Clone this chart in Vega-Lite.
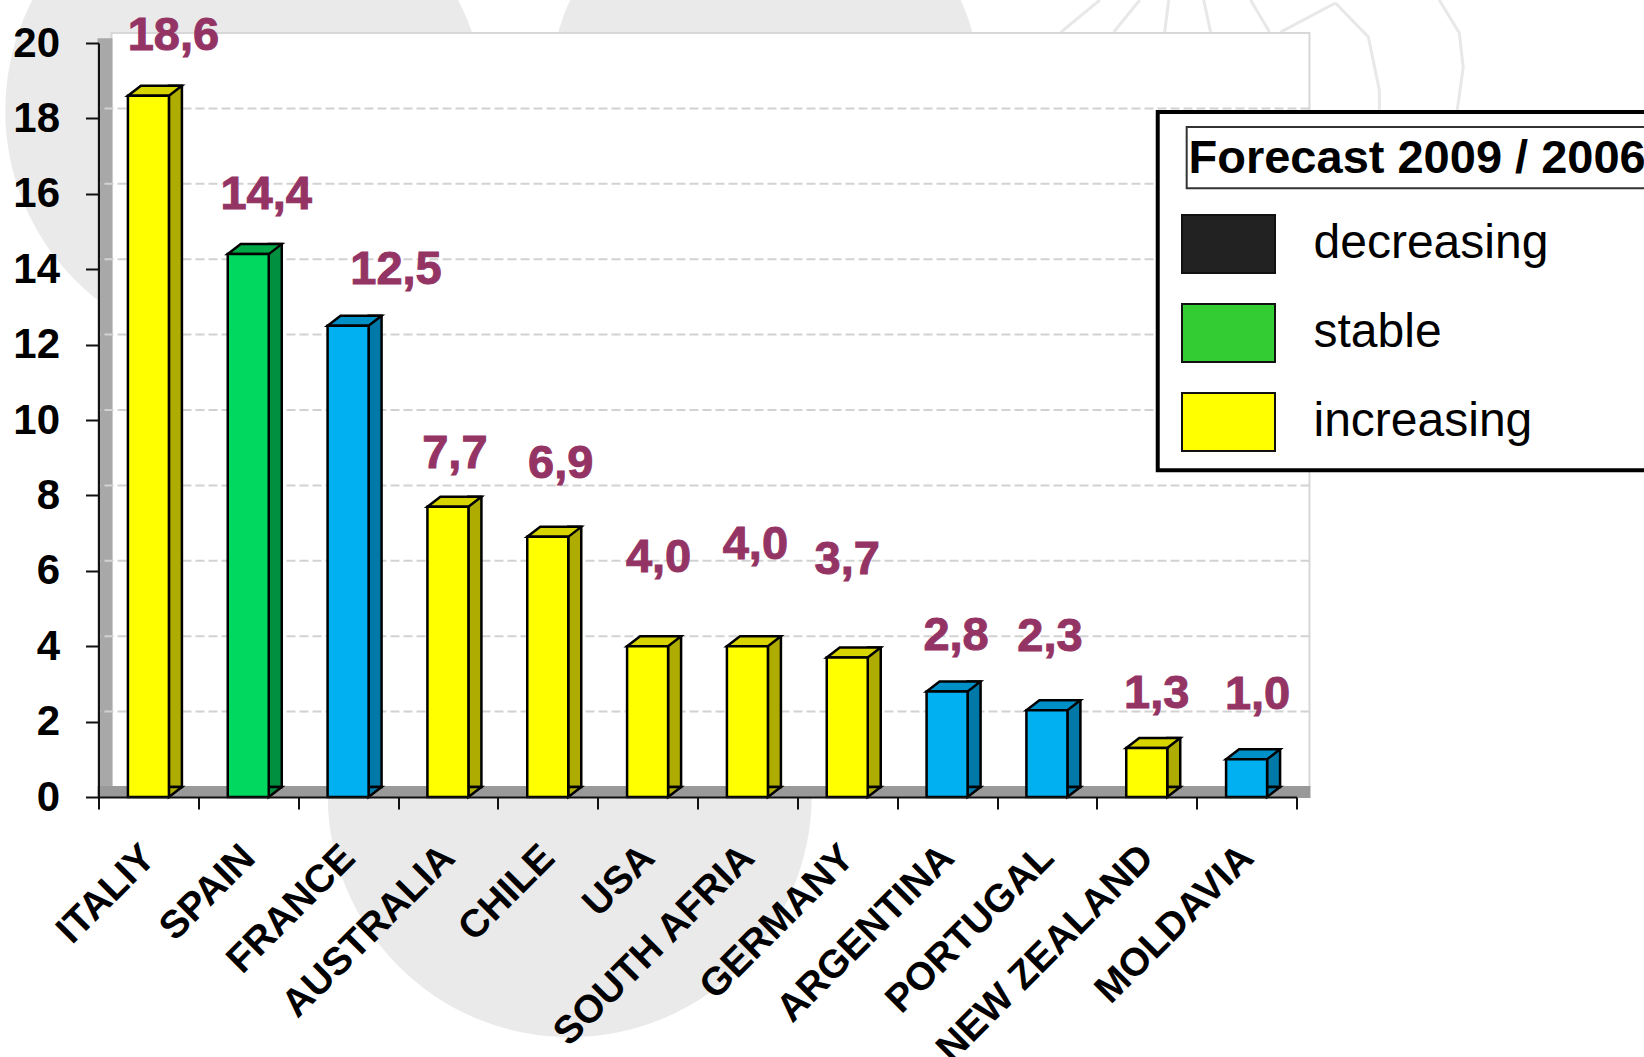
{
"$schema":"https://vega.github.io/schema/vega-lite/v6.json",
"width":1198,"height":754,"autosize":"none",
"padding":{"left":98.5,"top":43,"right":347.5,"bottom":260},
"background":"white",
"config":{"view":{"stroke":null},"font":"Liberation Sans",
 "axisY":{"title":null,"grid":false,"tickCount":10,"labelFont":"Liberation Sans","labelFontWeight":"bold","labelFontSize":42,"labelColor":"#000","labelPadding":26,"tickSize":13,"tickWidth":2,"tickColor":"#111","domainColor":"#111","domainWidth":2}},
"datasets":{
"rows":[
{"country":"ITALIY","value":18.6,"label":"18,6","trend":"increasing","lx":0.75,"ly":19.81},
{"country":"SPAIN","value":14.4,"label":"14,4","trend":"stable","lx":1.68,"ly":15.61},
{"country":"FRANCE","value":12.5,"label":"12,5","trend":"decreasing","lx":2.98,"ly":13.62},
{"country":"AUSTRALIA","value":7.7,"label":"7,7","trend":"increasing","lx":3.57,"ly":8.72},
{"country":"CHILE","value":6.9,"label":"6,9","trend":"increasing","lx":4.63,"ly":8.47},
{"country":"USA","value":4.0,"label":"4,0","trend":"increasing","lx":5.61,"ly":5.97},
{"country":"SOUTH AFRIA","value":4.0,"label":"4,0","trend":"increasing","lx":6.58,"ly":6.31},
{"country":"GERMANY","value":3.7,"label":"3,7","trend":"increasing","lx":7.5,"ly":5.92},
{"country":"ARGENTINA","value":2.8,"label":"2,8","trend":"decreasing","lx":8.59,"ly":3.89},
{"country":"PORTUGAL","value":2.3,"label":"2,3","trend":"decreasing","lx":9.53,"ly":3.87},
{"country":"NEW ZEALAND","value":1.3,"label":"1,3","trend":"increasing","lx":10.6,"ly":2.35},
{"country":"MOLDAVIA","value":1.0,"label":"1,0","trend":"decreasing","lx":11.61,"ly":2.33}
],
"blobs":[{"bx":1.47,"by":18.2,"area":230400},{"bx":6.68,"by":18.75,"area":184900},{"bx":4.72,"by":0.05,"area":234256}],
"sketch":[
{"s":"a","bx":9.64,"by":20.29},{"s":"a","bx":10.03,"by":21.14},
{"s":"b","bx":10.17,"by":20.29},{"s":"b","bx":10.43,"by":21.14},
{"s":"c","bx":10.68,"by":20.29},{"s":"c","bx":10.72,"by":21.14},
{"s":"d","bx":11.14,"by":20.29},{"s":"d","bx":11.07,"by":21.14},
{"s":"e","bx":11.73,"by":20.29},{"s":"e","bx":11.54,"by":21.14},
{"s":"f","bx":11.84,"by":20.29},{"s":"f","bx":12.39,"by":21.06},
{"s":"g","bx":12.39,"by":21.06},{"s":"g","bx":12.72,"by":20.16},{"s":"g","bx":12.83,"by":18.75},{"s":"g","bx":12.83,"by":18.22},
{"s":"h","bx":13.43,"by":21.14},{"s":"h","bx":13.63,"by":20.27},{"s":"h","bx":13.67,"by":19.36},{"s":"h","bx":13.61,"by":18.22}
],
"frame":[
{"part":"back","x0":0.13,"x1":12.13,"y0":0.265,"y1":20.265},
{"part":"left","x0":0,"x1":0.13,"y0":0,"y1":20.1},
{"part":"floor","x0":0,"x1":12.13,"y0":0,"y1":0.265}
],
"grid":[{"g":2},{"g":4},{"g":6},{"g":8},{"g":10},{"g":12},{"g":14},{"g":16},{"g":18}],
"box":[{"x0":10.61,"x1":16,"y0":8.67,"y1":18.17}],
"titlebox":[{"x0":10.9,"x1":16,"y0":16.15,"y1":17.77}]
},
"layer":[
{"data":{"name":"blobs"},"mark":{"type":"point","filled":true,"shape":"circle","fill":"#eaeaea","opacity":1,"stroke":null,"clip":false},
 "encoding":{"x":{"field":"bx","type":"quantitative","scale":{"domain":[0,12],"nice":false,"zero":false},"axis":null},
 "y":{"field":"by","type":"quantitative","scale":{"domain":[0,20],"nice":false}},
 "size":{"field":"area","type":"quantitative","scale":null}}},
{"data":{"name":"sketch"},"mark":{"type":"line","stroke":"#e8e8e8","strokeWidth":3},
 "encoding":{"x":{"field":"bx","type":"quantitative","scale":{"domain":[0,12],"nice":false,"zero":false},"axis":null},
 "y":{"field":"by","type":"quantitative","scale":{"domain":[0,20],"nice":false}},
 "detail":{"field":"s"},"order":{"field":"by","sort":"descending"}}},
{"data":{"name":"frame"},"mark":{"type":"rect","strokeWidth":2},
 "encoding":{"x":{"field":"x0","type":"quantitative","scale":{"domain":[0,12],"nice":false,"zero":false},"axis":null},"x2":{"field":"x1"},
 "y":{"field":"y0","type":"quantitative","scale":{"domain":[0,20],"nice":false}},"y2":{"field":"y1"},
 "fill":{"field":"part","type":"nominal","legend":null,"scale":{"domain":["back","left","floor"],"range":["#ffffff","#a8a8a8","#999999"]}},
 "stroke":{"field":"part","type":"nominal","legend":null,"scale":{"domain":["back","left","floor"],"range":["#d8d8d8","#a8a8a8","#999999"]}}}},
{"data":{"name":"grid"},"mark":{"type":"rule","stroke":"#d2d2d2","strokeWidth":2,"strokeDash":[9,4],"yOffset":-10,"xOffset":13},
 "encoding":{"y":{"field":"g","type":"quantitative","scale":{"domain":[0,20],"nice":false}}}},
{"data":{"name":"rows"},"mark":{"type":"bar","width":13,"xOffset":27,"yOffset":-10,"y2Offset":-10,"stroke":"#000","strokeWidth":2.5},
 "encoding":{"x":{"field":"country","type":"nominal","sort":null,"scale":{"paddingInner":0,"paddingOuter":0},"axis":null},
 "y":{"field":"value","type":"quantitative","scale":{"domain":[0,20],"nice":false}},
 "fill":{"field":"trend","type":"nominal","legend":null,"scale":{"domain":["decreasing","stable","increasing"],"range":["#0078a8","#009040","#aeac00"]}}}},
{"data":{"name":"rows"},"mark":{"type":"point","filled":true,"opacity":1,"size":4,"shape":"M20.5,0L33.5,-10H20.5Z","stroke":"#000","strokeWidth":2.5},
 "encoding":{"x":{"field":"country","type":"nominal","sort":null,"scale":{"paddingInner":0,"paddingOuter":0},"axis":null},
 "y":{"datum":0,"type":"quantitative","scale":{"domain":[0,20],"nice":false}},
 "fill":{"field":"trend","type":"nominal","legend":null,"scale":{"domain":["decreasing","stable","increasing"],"range":["#0078a8","#009040","#aeac00"]}}}},
{"data":{"name":"rows"},"mark":{"type":"point","filled":true,"opacity":1,"size":4,"shape":"M-20.5,0H20.5L33.5,-10H-7.5Z","stroke":"#000","strokeWidth":2.5},
 "encoding":{"x":{"field":"country","type":"nominal","sort":null,"scale":{"paddingInner":0,"paddingOuter":0},"axis":null},
 "y":{"field":"value","type":"quantitative","scale":{"domain":[0,20],"nice":false}},
 "fill":{"field":"trend","type":"nominal","legend":null,"scale":{"domain":["decreasing","stable","increasing"],"range":["#0090c8","#00a848","#d8d400"]}}}},
{"data":{"name":"rows"},"mark":{"type":"bar","width":41,"stroke":"#000","strokeWidth":2.5},
 "encoding":{"x":{"field":"country","type":"nominal","sort":null,"scale":{"paddingInner":0,"paddingOuter":0},
   "axis":{"title":null,"labelAngle":-45,"labelAlign":"right","labelBaseline":"middle","labelFont":"Liberation Sans","labelFontWeight":"bold","labelFontSize":39,"labelColor":"#000","labelPadding":42,"labelLimit":400,"labelOverlap":false,"tickBand":"extent","tickSize":12,"tickWidth":2,"tickColor":"#111","domainColor":"#111","domainWidth":2,"grid":false,"zindex":1}},
 "y":{"field":"value","type":"quantitative","scale":{"domain":[0,20],"nice":false},"axis":{"zindex":1}},
 "fill":{"field":"trend","type":"nominal","legend":null,"scale":{"domain":["decreasing","stable","increasing"],"range":["#00b0f0","#00d85f","#ffff00"]}}}},
{"data":{"name":"rows"},"mark":{"type":"text","font":"Liberation Sans","fontWeight":"bold","fontSize":47,"fill":"#943464","stroke":"#943464","strokeWidth":1,"baseline":"alphabetic","align":"center"},
 "encoding":{"x":{"field":"lx","type":"quantitative","scale":{"domain":[0,12],"nice":false,"zero":false},"axis":null},
 "y":{"field":"ly","type":"quantitative","scale":{"domain":[0,20],"nice":false}},
 "text":{"field":"label"}}},
{"data":{"name":"box"},"mark":{"type":"rect","fill":"#fff","stroke":"#000","strokeWidth":4},
 "encoding":{"x":{"field":"x0","type":"quantitative","scale":{"domain":[0,12],"nice":false,"zero":false},"axis":null},"x2":{"field":"x1"},
 "y":{"field":"y0","type":"quantitative","scale":{"domain":[0,20],"nice":false}},"y2":{"field":"y1"}}},
{"data":{"name":"titlebox"},"mark":{"type":"rect","fill":"#fff","stroke":"#333","strokeWidth":2},
 "encoding":{"x":{"field":"x0","type":"quantitative","scale":{"domain":[0,12],"nice":false,"zero":false},"axis":null},"x2":{"field":"x1"},
 "y":{"field":"y0","type":"quantitative","scale":{"domain":[0,20],"nice":false}},"y2":{"field":"y1"}}},
{"data":{"name":"rows"},"mark":{"type":"point","filled":true,"opacity":0,"shape":"M-0.93,-0.58H0.93V0.58H-0.93Z"},
 "encoding":{"x":{"field":"country","type":"nominal","sort":null,"scale":{"paddingInner":0,"paddingOuter":0},"axis":null},
 "y":{"field":"value","type":"quantitative","scale":{"domain":[0,20],"nice":false}},
 "color":{"field":"trend","type":"nominal","scale":{"domain":["decreasing","stable","increasing"],"range":["#222222","#33cc33","#ffff00"]},
  "legend":{"orient":"none","legendX":1070,"legendY":73,"title":"Forecast 2009 / 2006","titleFont":"Liberation Sans","titleFontWeight":"bold","titleFontSize":47,"titleColor":"#000","titleLimit":800,"titlePadding":10,"labelFont":"Liberation Sans","labelFontSize":48,"labelColor":"#000","labelLimit":500,"labelOffset":34,"symbolOffset":-11,"symbolType":"M-0.93,-0.58H0.93V0.58H-0.93Z","symbolSize":10000,"symbolOpacity":1,"symbolStrokeColor":"#111","symbolStrokeWidth":2,"rowPadding":5,"padding":20}}}}
],
"resolve":{"scale":{"x":"independent","fill":"independent","stroke":"independent"},"axis":{"x":"independent"}}
}
